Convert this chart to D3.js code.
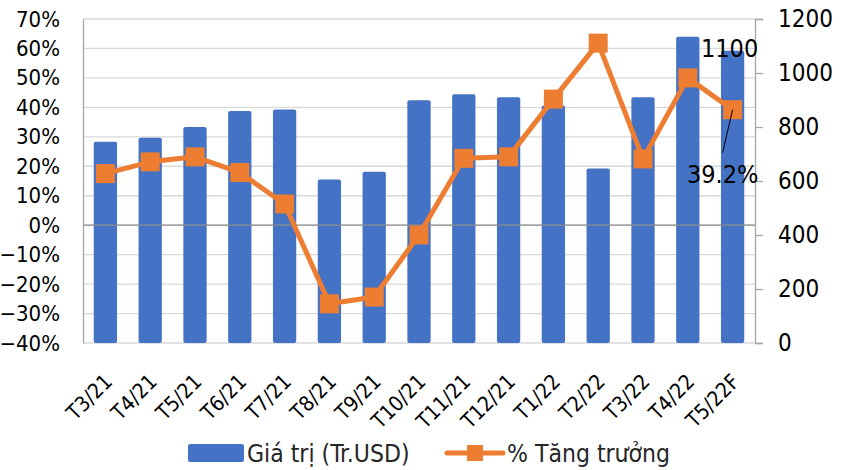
<!DOCTYPE html>
<html>
<head>
<meta charset="utf-8">
<script src="https://cdn.jsdelivr.net/npm/d3@7"></script>
<style>
  html, body { margin: 0; padding: 0; background: #fff; }
  svg { display: block; }
  text { font-family: "DejaVu Sans Condensed", "DejaVu Sans", sans-serif; font-stretch: condensed; }
</style>
</head>
<body>
<svg id="chart" width="844" height="470"></svg>
<script>
const categories = ["T3/21","T4/21","T5/21","T6/21","T7/21","T8/21","T9/21","T10/21","T11/21","T12/21","T1/22","T2/22","T3/22","T4/22","T5/22F"];
const values = [745, 760, 800, 859, 865, 606, 634, 899, 921, 910, 880, 646, 910, 1134, 1082];
const growth = [0.175, 0.215, 0.232, 0.179, 0.072, -0.267, -0.244, -0.033, 0.227, 0.232, 0.428, 0.618, 0.225, 0.500, 0.392];
const leftTicks = [-0.4,-0.3,-0.2,-0.1,0,0.1,0.2,0.3,0.4,0.5,0.6,0.7];
const rightTicks = [0,200,400,600,800,1000,1200];
const seriesNames = ["Giá trị (Tr.USD)", "% Tăng trưởng"];
const barLabelText = "1100";
const lineLabelText = "39.2%";

const barColor = "#4472C4", lineColor = "#ED7D31";
const L = 83, R = 755, T = 19, B = 343;

const svg = d3.select("#chart");
const x = d3.scaleBand().domain(categories).range([L, R]).paddingInner(0.48).paddingOuter(0.24);
const yL = d3.scaleLinear().domain([-0.4, 0.7]).range([B, T]);
const yR = d3.scaleLinear().domain([0, 1200]).range([B, T]);

// gridlines
svg.append("g").selectAll("line").data(leftTicks).join("line")
  .attr("x1", L).attr("x2", R)
  .attr("y1", d => yL(d)).attr("y2", d => yL(d))
  .attr("stroke", "#d9d9d9").attr("stroke-width", 1.3);

// bars
svg.append("g").selectAll("rect").data(categories).join("rect")
  .attr("x", d => x(d))
  .attr("width", x.bandwidth())
  .attr("y", (d, i) => yR(values[i]))
  .attr("height", (d, i) => yR(0) - yR(values[i]))
  .attr("rx", 2)
  .attr("fill", barColor);

// zero line
svg.append("line").attr("x1", L).attr("x2", R).attr("y1", yL(0)).attr("y2", yL(0))
  .attr("stroke", "#8c8c8c").attr("stroke-width", 1.3);

// left axis
const axL = svg.append("g").attr("transform", `translate(${L},0)`)
  .call(d3.axisLeft(yL).tickValues(leftTicks).tickFormat(d3.format(".0%")).tickSize(0).tickPadding(23));
axL.select(".domain").attr("stroke", "#a6a6a6").attr("stroke-width", 1.3);
axL.selectAll("text").attr("font-size", 22).attr("fill", "#000")
  .attr("font-family", '"DejaVu Sans Condensed", "DejaVu Sans", sans-serif');

// right axis
const axR = svg.append("g").attr("transform", `translate(${R},0)`)
  .call(d3.axisRight(yR).tickValues(rightTicks).tickFormat(d3.format("d")).tickSize(8).tickPadding(15));
axR.select(".domain").attr("stroke", "#a6a6a6").attr("stroke-width", 1.3);
axR.selectAll(".tick line").attr("stroke", "#a6a6a6").attr("stroke-width", 1.3);
axR.selectAll("text").attr("font-size", 24).attr("fill", "#000")
  .attr("font-family", '"DejaVu Sans Condensed", "DejaVu Sans", sans-serif');

// x labels
const cx = d => x(d) + x.bandwidth() / 2;
svg.append("g").selectAll("text").data(categories).join("text")
  .attr("transform", d => `translate(${cx(d) + 8},${B + 40}) rotate(-45)`)
  .attr("text-anchor", "end")
  .attr("font-size", 21).attr("fill", "#000")
  .text(d => d);

// line
const line = d3.line().x((d, i) => cx(categories[i])).y(d => yL(d));
svg.append("path").datum(growth).attr("d", line)
  .attr("fill", "none").attr("stroke", lineColor).attr("stroke-width", 5).attr("stroke-linejoin", "round");
const ms = 19;
svg.append("g").selectAll("rect").data(growth).join("rect")
  .attr("x", (d, i) => cx(categories[i]) - ms / 2)
  .attr("y", d => yL(d) - ms / 2)
  .attr("width", ms).attr("height", ms)
  .attr("fill", lineColor);

// data labels
const last = categories.length - 1;
svg.append("text")
  .attr("x", cx(categories[last]) - 3).attr("y", 57)
  .attr("text-anchor", "middle").attr("font-size", 25).attr("fill", "#000")
  .text(barLabelText);
svg.append("line")
  .attr("x1", cx(categories[last])).attr("y1", yL(growth[last]))
  .attr("x2", cx(categories[last]) - 10).attr("y2", yL(growth[last]) + 43)
  .attr("stroke", "#000").attr("stroke-width", 1);
svg.append("text")
  .attr("x", cx(categories[last]) - 10).attr("y", 183)
  .attr("text-anchor", "middle").attr("font-size", 25).attr("fill", "#000")
  .text(lineLabelText);

// legend
const lg = svg.append("g");
lg.append("rect").attr("x", 188).attr("y", 444).attr("width", 56).attr("height", 18).attr("rx", 2).attr("fill", barColor);
lg.append("text").attr("x", 247).attr("y", 462).attr("font-size", 24.5).attr("fill", "#262626").text(seriesNames[0]);
lg.append("line").attr("x1", 447).attr("x2", 503).attr("y1", 453).attr("y2", 453)
  .attr("stroke", lineColor).attr("stroke-width", 5).attr("stroke-linecap", "round");
lg.append("rect").attr("x", 467).attr("y", 445).attr("width", 16).attr("height", 16).attr("fill", lineColor);
lg.append("text").attr("x", 507).attr("y", 462).attr("font-size", 24.5).attr("fill", "#262626").text(seriesNames[1]);
</script>
</body>
</html>
